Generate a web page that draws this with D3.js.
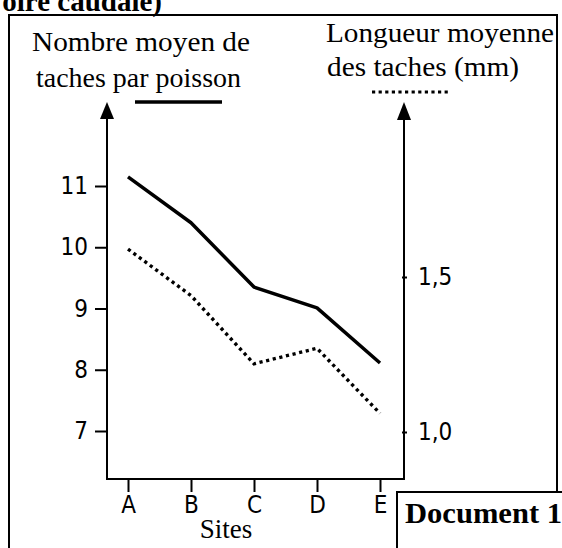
<!DOCTYPE html>
<html><head><meta charset="utf-8">
<script src="https://cdn.jsdelivr.net/npm/d3@7"></script>
<style>body{margin:0;background:#fff}svg{display:block}</style>
</head><body>
<script>
const sites = ["A","B","C","D","E"];
const nombreTaches = [11.15, 10.40, 9.35, 9.01, 8.11];
const longueurTaches = [1.59, 1.44, 1.22, 1.27, 1.06];
const leftTicks = [7, 8, 9, 10, 11];
const rightTicks = [1.0, 1.5];

const W = 562, H = 548;
const svg = d3.select("body").append("svg").attr("width", W).attr("height", H);
const serif = "'Liberation Serif','Times New Roman',serif";
const sans = "'DejaVu Sans Condensed','DejaVu Sans',sans-serif";

const x = d3.scalePoint().domain(sites).range([128, 380]);
const yL = d3.scaleLinear().domain([7, 11]).range([431, 186]);
const yR = d3.scaleLinear().domain([1.0, 1.5]).range([432, 277]);
const xL = 107, xR = 404, yB = 479;

// clipped top heading
svg.append("text").attr("x", 162).attr("y", 11).attr("text-anchor", "end")
  .attr("font-family", serif).attr("font-weight", "bold").attr("font-size", 29)
  .text("oire caudale)");

// frame
svg.append("path").attr("d", `M9,548 V15 H557 V492`).attr("fill", "none")
  .attr("stroke", "#000").attr("stroke-width", 2);
// document box
svg.append("path").attr("d", `M397,548 V492 H562`).attr("fill", "none")
  .attr("stroke", "#000").attr("stroke-width", 2);
svg.append("text").attr("x", 405).attr("y", 523)
  .attr("font-family", serif).attr("font-weight", "bold").attr("font-size", 29)
  .attr("textLength", 157).attr("lengthAdjust", "spacingAndGlyphs")
  .text("Document 1");

// titles
function t(txt, xx, yy, len) {
  svg.append("text").attr("x", xx).attr("y", yy).attr("font-family", serif)
    .attr("font-size", 27).attr("textLength", len).attr("lengthAdjust", "spacingAndGlyphs")
    .text(txt);
}
t("Nombre moyen de", 32, 51, 218);
t("taches par poisson", 36, 87, 205);
t("Longueur moyenne", 326, 42, 228);
t("des taches (mm)", 327, 76, 192);
svg.append("line").attr("x1", 135).attr("x2", 222).attr("y1", 102).attr("y2", 102)
  .attr("stroke", "#000").attr("stroke-width", 3.5);
svg.append("line").attr("x1", 372).attr("x2", 448).attr("y1", 92).attr("y2", 92)
  .attr("stroke", "#000").attr("stroke-width", 3.2).attr("stroke-dasharray", "3.2,3.4");

// axes lines with arrows
svg.append("path").attr("d", `M${xL},118 V${yB} H${xR} V120`).attr("fill", "none")
  .attr("stroke", "#000").attr("stroke-width", 2);
svg.append("path").attr("d", `M${xL},102 l-7,17 h14 z`).attr("fill", "#000");
svg.append("path").attr("d", `M${xR},102 l-7,18 h14 z`).attr("fill", "#000");

// left axis
const gL = svg.append("g").attr("transform", `translate(${xL},0)`)
  .call(d3.axisLeft(yL).tickValues(leftTicks).tickSize(12).tickPadding(7).tickFormat(d3.format("d")));
gL.select(".domain").remove();
gL.selectAll("line").attr("stroke-width", 2);
gL.selectAll("text").attr("font-family", sans).attr("font-size", 24).attr("fill", "#000");

// right axis
const gR = svg.append("g").attr("transform", `translate(${xR},0)`)
  .call(d3.axisRight(yR).tickValues(rightTicks).tickSize(3).tickPadding(11)
    .tickFormat(d => d3.format(".1f")(d).replace(".", ",")));
gR.select(".domain").remove();
gR.selectAll("line").attr("stroke-width", 2).attr("x1", -2);
gR.selectAll("text").attr("font-family", sans).attr("font-size", 24).attr("fill", "#000");

// bottom axis
const gB = svg.append("g").attr("transform", `translate(0,${yB})`)
  .call(d3.axisBottom(x).tickSize(13).tickPadding(4));
gB.select(".domain").remove();
gB.selectAll("line").attr("stroke-width", 2);
gB.selectAll("text").attr("font-family", sans).attr("font-size", 24).attr("fill", "#000");

svg.append("text").attr("x", 226).attr("y", 538).attr("text-anchor", "middle")
  .attr("font-family", serif).attr("font-size", 27).text("Sites");

// lines
const lineL = d3.line().x((d, i) => x(sites[i])).y(d => yL(d));
const lineR = d3.line().x((d, i) => x(sites[i])).y(d => yR(d));
svg.append("path").datum(nombreTaches).attr("d", lineL).attr("fill", "none")
  .attr("stroke", "#000").attr("stroke-width", 3.5).attr("stroke-linejoin", "round");
svg.append("path").datum(longueurTaches).attr("d", lineR).attr("fill", "none")
  .attr("stroke", "#000").attr("stroke-width", 3.4).attr("stroke-dasharray", "3.2,3.6");
</script>
</body></html>
